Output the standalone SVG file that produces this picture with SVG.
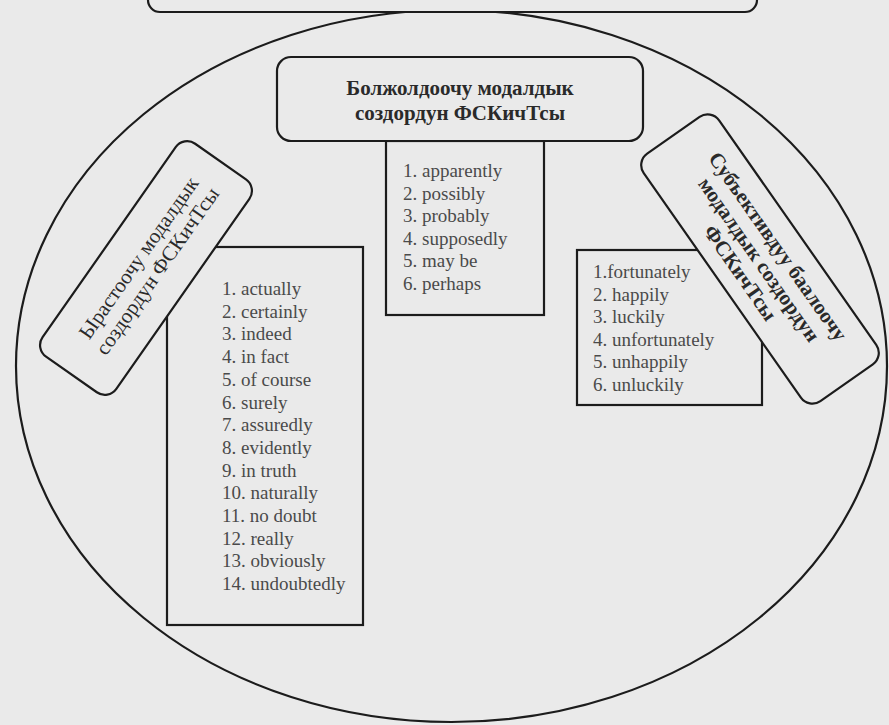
<svg xmlns="http://www.w3.org/2000/svg" width="889" height="725" viewBox="0 0 889 725">
<style>
.bg{fill:#eaeaea}
.shape{fill:#eaeaea;stroke:#1c1c1c;stroke-width:2.2}
.head{font-family:"Liberation Serif","Times New Roman",serif;font-size:21px;fill:#2a2a2a;text-anchor:middle}
.bold{font-weight:bold}
.item{font-family:"Liberation Serif","Times New Roman",serif;font-size:19px;fill:#4a4a4a}
</style>
<rect class="bg" x="0" y="0" width="889" height="725"/>
<g id="outer-ellipse"><ellipse class="shape" cx="451.5" cy="366" rx="435.5" ry="356"/></g>
<g id="top-box"><rect class="shape" x="148" y="-30" width="609" height="42" rx="12"/></g>
<g id="list-center">
<rect class="shape" x="386" y="141" width="158" height="174"/>
<text class="item" x="403" y="177">1. apparently</text>
<text class="item" x="403" y="199.6">2. possibly</text>
<text class="item" x="403" y="222.2">3. probably</text>
<text class="item" x="403" y="244.8">4. supposedly</text>
<text class="item" x="403" y="267.4">5. may be</text>
<text class="item" x="403" y="290">6. perhaps</text>
</g>
<g id="center-box">
<rect class="shape" x="277" y="57" width="366" height="84" rx="14"/>
<text class="head bold" x="460" y="95">Болжолдоочу модалдык</text>
<text class="head bold" x="460" y="120">создордун ФСКичТсы</text>
</g>
<g id="list-left">
<rect class="shape" x="167" y="247" width="196" height="378"/>
<text class="item" x="222" y="295">1. actually</text>
<text class="item" x="222" y="317.7">2. certainly</text>
<text class="item" x="222" y="340.4">3. indeed</text>
<text class="item" x="222" y="363.1">4. in fact</text>
<text class="item" x="222" y="385.8">5. of course</text>
<text class="item" x="222" y="408.5">6. surely</text>
<text class="item" x="222" y="431.2">7. assuredly</text>
<text class="item" x="222" y="453.9">8. evidently</text>
<text class="item" x="222" y="476.6">9. in truth</text>
<text class="item" x="222" y="499.3">10. naturally</text>
<text class="item" x="222" y="522">11. no doubt</text>
<text class="item" x="222" y="544.7">12. really</text>
<text class="item" x="222" y="567.4">13. obviously</text>
<text class="item" x="222" y="590.1">14. undoubtedly</text>
</g>
<g id="left-box" transform="translate(146 268) rotate(-55)">
<rect class="shape" x="-130" y="-45" width="260" height="90" rx="14"/>
<text class="head" x="4" y="-5">Ырастоочу модалдык</text>
<text class="head" x="4" y="18">создордун ФСКичТсы</text>
</g>
<g id="list-right">
<rect class="shape" x="577" y="250" width="185" height="155"/>
<text class="item" x="593" y="278">1.fortunately</text>
<text class="item" x="593" y="300.5">2. happily</text>
<text class="item" x="593" y="323">3. luckily</text>
<text class="item" x="593" y="345.5">4. unfortunately</text>
<text class="item" x="593" y="368">5. unhappily</text>
<text class="item" x="593" y="390.5">6. unluckily</text>
</g>
<g id="right-box" transform="translate(760 259) rotate(55)">
<rect class="shape" x="-151" y="-46" width="302" height="92" rx="14"/>
<text class="head bold" x="0" y="-15" font-size="20">Субъективдуу баалоочу</text>
<text class="head bold" x="0" y="8" font-size="20">модалдык создордун</text>
<text class="head bold" x="0" y="31" font-size="20">ФСКичТсы</text>
</g>
<g id="connectors"></g>
</svg>
